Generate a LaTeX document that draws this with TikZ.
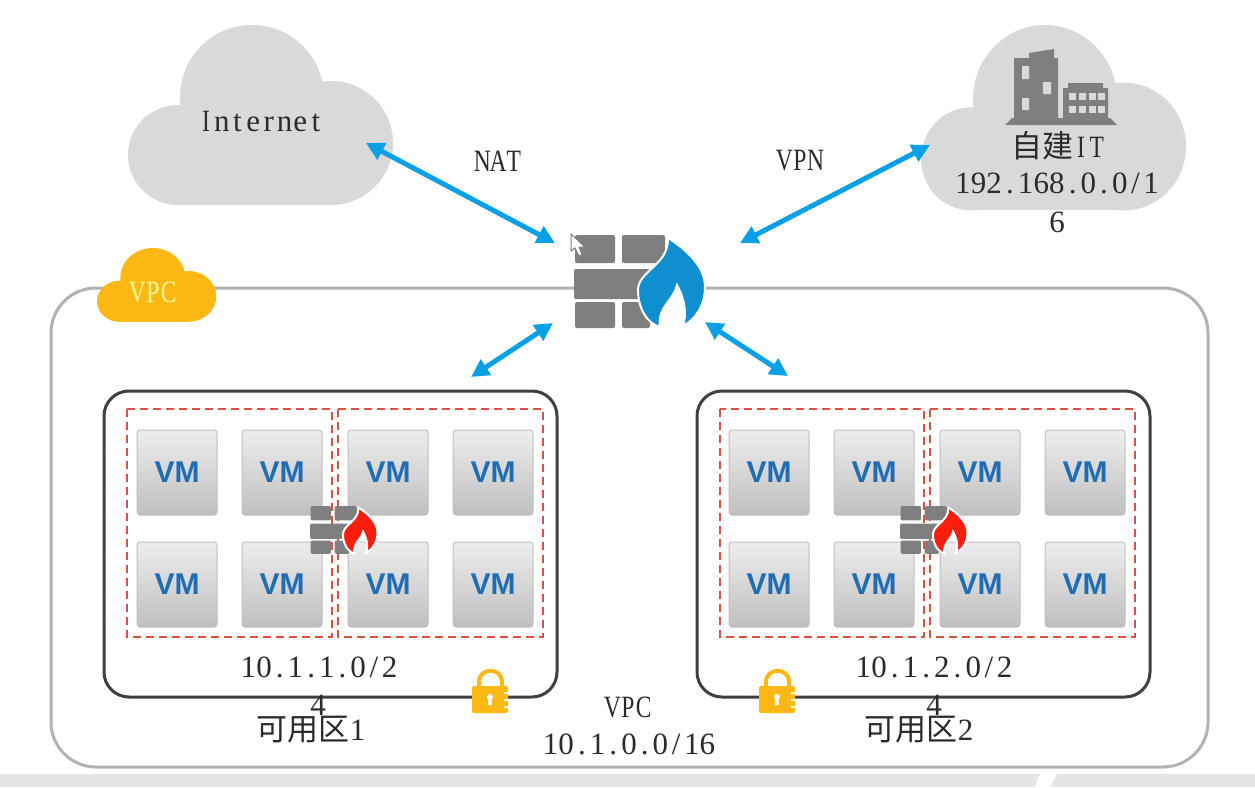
\documentclass[tikz,border=0pt]{standalone}
\usepackage{graphicx}
\usepackage{fontspec}
\setmainfont{Liberation Serif}
\newfontfamily\cjkf{Noto Sans CJK SC}
\newfontfamily\vmf{Liberation Sans}
\usetikzlibrary{arrows.meta}
\definecolor{inkc}{HTML}{2B2B2B}
\definecolor{cloudc}{HTML}{D9D9D9}
\definecolor{brickc}{HTML}{7F7F7F}
\definecolor{arrowc}{HTML}{0AA0E6}
\definecolor{goldc}{HTML}{FDB813}
\definecolor{redd}{HTML}{E0503F}
\definecolor{vmblue}{HTML}{1E6DB5}
\definecolor{flameb}{HTML}{0F8FD0}
\definecolor{flamer}{HTML}{FA1E0E}
\newcommand{\lat}{\fontsize{31}{31}\selectfont}
\newcommand{\han}[1]{{\cjkf\fontsize{31}{31}\selectfont #1}}
% half-width cells, as the reference's font sets Latin letters and digits
\def\fwloop#1{\ifx#1\relax\else\makebox[15.7pt]{#1}\expandafter\fwloop\fi}
\newcommand{\fw}[1]{\fwloop#1\relax}
\def\fcloop#1{\ifx#1\relax\else\makebox[15.7pt]{\scalebox{0.76}[1]{#1}}\expandafter\fcloop\fi}
\newcommand{\fwc}[1]{\fcloop#1\relax}
\tikzset{
 lbl/.style={text=inkc,inner sep=0pt,font=\lat},
 link/.style={draw=arrowc,line width=5pt,{Triangle[length=18pt,width=18pt]}-{Triangle[length=18pt,width=18pt]}},
 zonebox/.style={draw=black!75,line width=3pt,rounded corners=25pt},
 vpcbox/.style={draw=black!30,line width=3pt,rounded corners=45pt},
 sub/.style={draw=redd,line width=2.2pt,dash pattern=on 8pt off 5pt},
 vmbox/.style={draw=black!25,line width=1pt,rounded corners=3pt,top color=gray!14,bottom color=gray!50},
 brick/.style={fill=brickc,rounded corners=2pt},
 pics/cloudlobes/.style={code={
   \fill[#1] (50,130) circle[radius=50] (124,72) circle[radius=72] (203,118) circle[radius=62];
   \fill[#1] (50,100) rectangle (203,180);
 }},
 pics/vmtile/.style={code={
   \path[vmbox] (0,0) rectangle (80,85);
   \node[inner sep=0pt,text=vmblue,font=\vmf\bfseries\fontsize{30}{30}\selectfont] (-t) at (40,42) {VM};
 }},
 pics/wall/.style={code={
   \path[brick] (1,0) rectangle (41,28) (48,0) rectangle (91,28)
     (0,34) rectangle (76,64) (1,67) rectangle (41,93) (48,67) rectangle (76,93);
   \path[draw=white,line width=2pt,fill=#1] (94,3) .. controls (118,18) and (131,35) .. (131,52)
     .. controls (131,70) and (122,84) .. (109,91)
     .. controls (113,78) and (111,65) .. (103,50)
     .. controls (100,65) and (83,72) .. (86,92)
     .. controls (72,88) and (64,72) .. (64,55)
     .. controls (64,36) and (95,30) .. (94,3) -- cycle;
 }},
 pics/padlock/.style={code={
   \draw[goldc,line width=4pt] (7,19) -- (7,14) .. controls (7,-1) and (30,-1) .. (30,14) -- (30,19);
   \fill[goldc,rounded corners=2pt] (0,18) rectangle (36,45);
   \fill[white] (18,29) circle[radius=3];
   \fill[white] (16.5,30) -- (19.5,30) -- (20,37) -- (16,37) -- cycle;
   \fill[white] (32,24) rectangle (36,26) (32,31) rectangle (36,33) (32,38) rectangle (36,40);
 }}
}
\begin{document}
\begin{tikzpicture}[x=1pt,y=-1pt]
\useasboundingbox (0,0) rectangle (1255,787);
\fill[white] (0,0) rectangle (1255,787);
% bottom strip
\fill[black!10] (0,774) rectangle (1255,787);
\fill[white] (1040,774) -- (1057,774) -- (1050,787) -- (1035,787) -- cycle;
% VPC frame
\draw[vpcbox] (51,288) rectangle (1208,767);
% clouds
\pic at (128,25) {cloudlobes=cloudc};
\pic[yscale=1.03] at (921,25) {cloudlobes=cloudc};
\pic[xscale=.45,yscale=.41] at (97,248) {cloudlobes=goldc};
% building
\fill[brickc] (1005,125) -- (1012,118) -- (1110,118) -- (1117,125) -- cycle;
\fill[brickc] (1014,118) -- (1014,58) -- (1029,58) -- (1029,53) -- (1054,49) -- (1054,58) -- (1058,58) -- (1058,118) -- cycle;
\fill[brickc] (1063,118) rectangle (1108,88) (1068,88) rectangle (1103,83);
\fill[cloudc] (1022,66) rectangle (1029,79) (1043,82) rectangle (1051,94) (1022,98) rectangle (1029,110);
\foreach \wx in {1069,1079,1089,1098} \foreach \wy in {93,106} \fill[cloudc] (\wx,\wy) rectangle +(7,7);
% zones
\foreach \zn/\ox/\bx in {a/0/0,b/592/1}{
  \begin{scope}[xshift=\ox pt]
  \draw[zonebox] (104+\bx,391) rectangle (557+\bx,697);
  \draw[sub] (127+\bx,409) rectangle (332,637);
  \draw[sub] (338,409) rectangle (543,637);
  \foreach \vx in {137,242,348,453} \foreach \vy in {430,542}
    \pic (vm\zn\vx\vy) at (\vx,\vy) {vmtile};
  \end{scope}
}
% firewalls
\pic[scale=.515] at (310,506) {wall=flamer};
\pic[scale=.515] at (900,506) {wall=flamer};
\pic at (574,235) {wall=flameb};
% cursor
\path[fill=white,draw=black!50,line width=1pt] (571,234) -- (571,251) -- (575,248) -- (579,256) -- (582,255) -- (579,247) -- (585,247) -- cycle;
% locks
\pic at (472,668) {padlock};
\pic at (759,668) {padlock};
% anchors
\coordinate (inetEnd) at (366,143);
\coordinate (itEnd) at (930,145);
\coordinate (fwNW) at (555,243);
\coordinate (fwNE) at (740,243);
\coordinate (fwSW) at (553,323);
\coordinate (fwSE) at (705,322);
\coordinate (zoneA) at (471,377);
\coordinate (zoneB) at (788,376);
\draw[link] (inetEnd) -- (fwNW);
\draw[link] (itEnd) -- (fwNE);
\draw[link] (fwSW) -- (zoneA);
\draw[link] (fwSE) -- (zoneB);
% text
\node[lbl] (inet) at (261,122) {\fwc{I}\fw{nternet}};
\node[lbl] (nat) at (498,161) {\fwc{NAT}};
\node[lbl] (vpn) at (800,161) {\fwc{VPN}};
\node[lbl] (selfit) at (1058,146) {\han{自建}\fwc{IT}};
\node[lbl] (itcidr) at (1057,183) {\fw{192.168.0.0/1}};
\node[lbl] (itcidrb) at (1057,222) {\fw{6}};
\node[lbl,text=yellow!40!white] (vpctag) at (153,292) {\fwc{VPC}};
\node[lbl] (cidra) at (319,667) {\fw{10.1.1.0/2}};
\node[lbl] (cidraa) at (318,705) {\fw{4}};
\node[lbl] (za) at (311,730) {\han{可用区}\fw{1}};
\node[lbl] (cidrb) at (934,667) {\fw{10.1.2.0/2}};
\node[lbl] (cidrbb) at (934,705) {\fw{4}};
\node[lbl] (zb) at (919,730) {\han{可用区}\fw{2}};
\node[lbl] (vpcl) at (628,707) {\fwc{VPC}};
\node[lbl] (vpccidr) at (629,744) {\fw{10.1.0.0/16}};
\end{tikzpicture}
\end{document}
